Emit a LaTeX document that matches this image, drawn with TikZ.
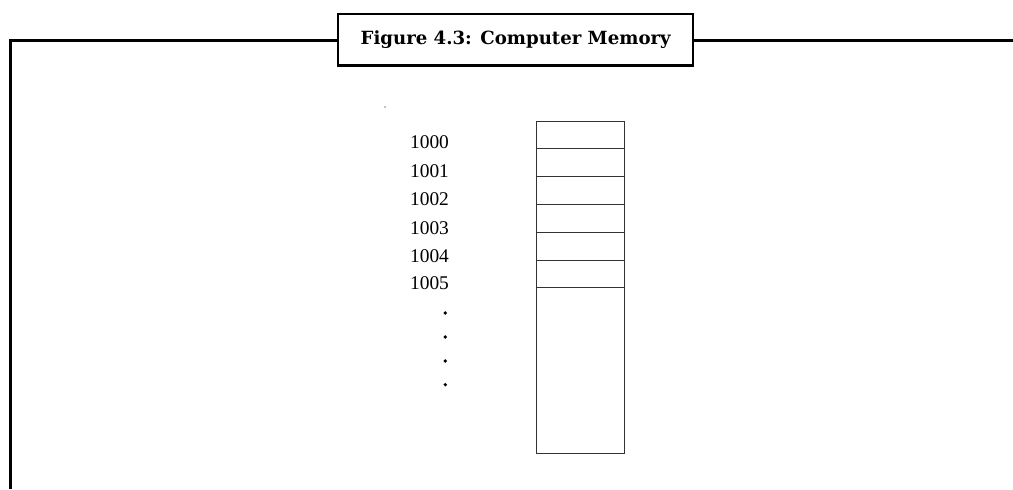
\documentclass[tikz,border=0pt]{standalone}
\usepackage{fontspec}
\setmainfont{Liberation Serif}
\newfontfamily\titlefont{DejaVu Serif}
\usetikzlibrary{positioning}

\begin{document}
\begin{tikzpicture}[x=0.025cm,y=-0.025cm,node distance=0cm,semithick]
	\tikzstyle{every node}=[font=\fontsize{13.8}{16}\selectfont]
	\tikzstyle{cell}=[draw=black!80,thin,minimum width=2.19cm,
		minimum height=0.695cm,inner sep=0pt,outer sep=0pt]
	\tikzstyle{frame}=[line width=1.7pt]

	\useasboundingbox (0,0) rectangle (1013,489);

	% caption box and frame
	\node[draw,frame,minimum width=8.875cm,minimum height=1.28cm,
		font=\titlefont\bfseries\fontsize{12.9}{15}\selectfont]
		(title) at (515.7,39.7) {Figure 4.3: Computer Memory};
	\coordinate (tl) at (10.5,40.5);
	\coordinate (bl) at (10.5,489);
	\coordinate (tr) at (1013,40.5);
	\draw[frame] (title.west |- tl) -- (tl) -- (bl);
	\draw[frame] (title.east |- tr) -- (tr);

	% memory cells
	\node[cell] (C0) at (580.5,134.8) {};
	\node[cell] (C1) [below=of C0] {};
	\node[cell] (C2) [below=of C1] {};
	\node[cell] (C3) [below=of C2] {};
	\node[cell] (C4) [below=of C3] {};
	\node[cell] (C5) [below=of C4] {};
	\node[cell,minimum height=4.14cm] (rest) [below=of C5] {};

	% addresses
	\foreach \i/\y in {0/142,1/171,2/199.5,3/228,4/256,5/283}
		\node (A\i) at (429.5,\y) {100\i};
	\foreach \y in {313,337,361,384.7}
		\fill (445.3,\y) circle (1.3pt);
	\fill (385,107) circle (0.4pt);
\end{tikzpicture}
\end{document}
